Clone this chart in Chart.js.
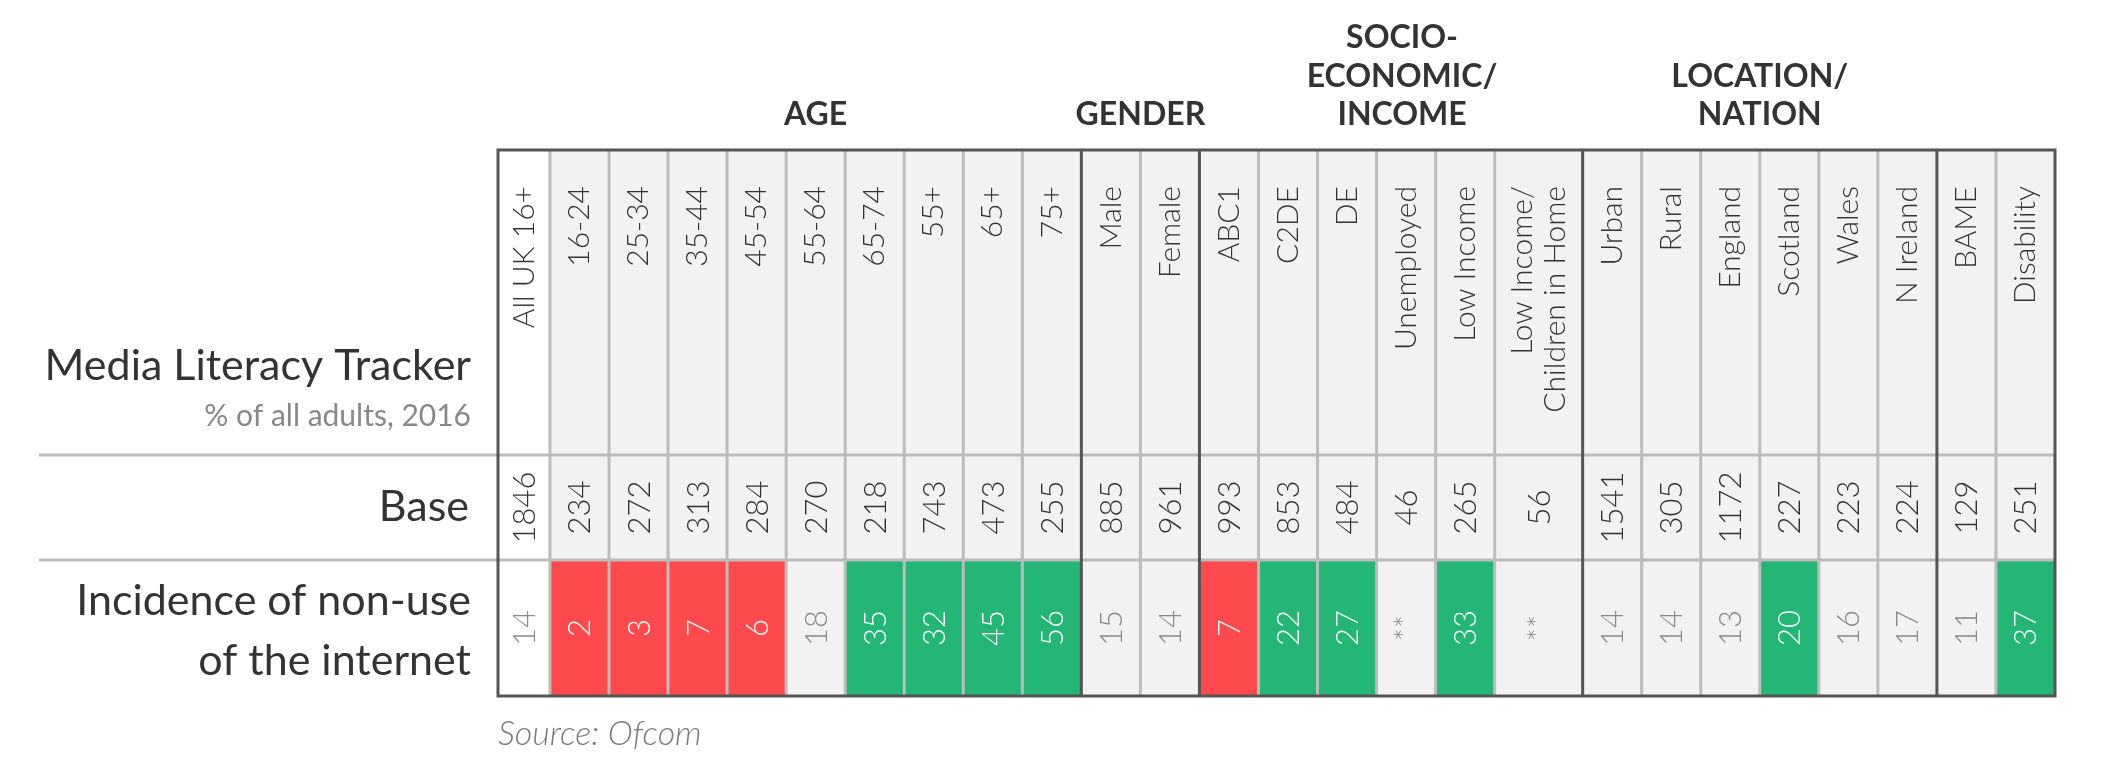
<!DOCTYPE html>
<html>
<head>
<meta charset="utf-8">
<script src="https://cdn.jsdelivr.net/npm/chart.js@4.4.0/dist/chart.umd.min.js"></script>
<style>
  html, body { margin: 0; background: #fff; }
  canvas { display: block; }
</style>
</head>
<body>
<canvas id="table-chart" width="2112" height="773"></canvas>
<script>
// Column labels (rotated headers)
const columns = ["All UK 16+", "16-24", "25-34", "35-44", "45-54", "55-64", "65-74", "55+", "65+", "75+",
  "Male", "Female", "ABC1", "C2DE", "DE", "Unemployed", "Low Income", "Low Income/\nChildren in Home",
  "Urban", "Rural", "England", "Scotland", "Wales", "N Ireland", "BAME", "Disability"];

// Base sizes
const baseValues = [1846, 234, 272, 313, 284, 270, 218, 743, 473, 255, 885, 961, 993, 853, 484, 46, 265, 56,
  1541, 305, 1172, 227, 223, 224, 129, 251];

// Incidence of non-use of the internet (%), null = ** (base too small)
const nonUse = [14, 2, 3, 7, 6, 18, 35, 32, 45, 56, 15, 14, 7, 22, 27, null, 33, null,
  14, 14, 13, 20, 16, 17, 11, 37];

// significance vs all adults: "low" / "high" / ""
const signif = ["", "low", "low", "low", "low", "", "high", "high", "high", "high", "", "", "low", "high", "high", "", "high", "",
  "", "", "", "high", "", "", "", "high"];

// group headings and the columns they cover
const groups = ["AGE", "GENDER", "SOCIO-\nECONOMIC/\nINCOME", "LOCATION/\nNATION"];
const groupFirst = [1, 10, 12, 18];
const groupLast = [9, 11, 17, 23];

const rowLabels = ["Base", "Incidence of non-use\nof the internet"];

// layout (not data)
const colWidths = columns.map((c, i) => i === 0 ? 0.88 : (i === 17 ? 1.49 : 1));
const edges = [0];
colWidths.forEach(w => edges.push(edges[edges.length - 1] + w));
const rowEdges = [0, 305, 410, 546];
const darkAfter = [9, 11, 17, 23]; // dark separator after these columns
const groupNudge = [0, 0, 11, 0];

const RED = "#ff4a4d", GREEN = "#23b674", CELL = "#f2f2f2";

function cellColor(i) {
  if (signif[i] === "low") return RED;
  if (signif[i] === "high") return GREEN;
  return i === 0 ? "#ffffff" : CELL;
}

const datasets = columns.map((c, i) => ({
  label: c,
  data: [0, 1, 2].map(r => ({ x: (edges[i] + edges[i + 1]) / 2, y: [rowEdges[r], rowEdges[r + 1]] })),
  backgroundColor: [i === 0 ? "#ffffff" : CELL, i === 0 ? "#ffffff" : CELL, cellColor(i)],
  borderWidth: 0,
  grouped: false,
  barThickness: ctx => {
    const s = ctx.chart.scales.x;
    return s.getPixelForValue(edges[i + 1]) - s.getPixelForValue(edges[i]);
  }
}));

function rotText(ctx, text, x, y, align) {
  ctx.save();
  ctx.translate(x, y);
  ctx.rotate(-Math.PI / 2);
  ctx.textAlign = align;
  ctx.textBaseline = "middle";
  ctx.fillText(text, 0, 0);
  ctx.restore();
}

const tablePlugin = {
  id: "tableLines",
  afterDatasetsDraw(chart) {
    const ctx = chart.ctx;
    const X = v => chart.scales.x.getPixelForValue(v);
    const Y = v => chart.scales.y.getPixelForValue(v);
    const top = Y(0), bottom = Y(546), left = X(0), right = X(edges[edges.length - 1]);

    ctx.save();
    // light cell lines
    ctx.strokeStyle = "#bcbcbc";
    ctx.lineWidth = 3;
    for (let i = 1; i < columns.length; i++) {
      if (darkAfter.includes(i - 1)) continue;
      ctx.beginPath();
      ctx.moveTo(X(edges[i]), top);
      ctx.lineTo(X(edges[i]), bottom);
      ctx.stroke();
    }
    [rowEdges[1], rowEdges[2]].forEach(r => {
      ctx.beginPath();
      ctx.moveTo(39, Y(r));
      ctx.lineTo(right, Y(r));
      ctx.stroke();
    });
    // dark group lines and outline
    ctx.strokeStyle = "#555555";
    ctx.lineWidth = 3;
    darkAfter.forEach(i => {
      ctx.beginPath();
      ctx.moveTo(X(edges[i + 1]), top);
      ctx.lineTo(X(edges[i + 1]), bottom);
      ctx.stroke();
    });
    ctx.strokeRect(left, top, right - left, bottom - top);

    // column headers
    ctx.fillStyle = "#333333";
    ctx.font = "300 30px Lato";
    columns.forEach((c, i) => {
      const cx = (X(edges[i]) + X(edges[i + 1])) / 2;
      const lines = c.split("\n");
      lines.forEach((ln, k) => {
        const off = (k - (lines.length - 1) / 2) * 33;
        rotText(ctx, ln, cx + off, top + 36, "right");
      });
    });

    // base row
    ctx.font = "300 31px Lato";
    const baseMid = (Y(rowEdges[1]) + Y(rowEdges[2])) / 2;
    baseValues.forEach((v, i) => {
      const cx = (X(edges[i]) + X(edges[i + 1])) / 2;
      ctx.fillStyle = "#333333";
      rotText(ctx, String(v), cx + 1, baseMid, "center");
    });

    // incidence row
    const incMid = (Y(rowEdges[2]) + Y(rowEdges[3])) / 2;
    nonUse.forEach((v, i) => {
      const cx = (X(edges[i]) + X(edges[i + 1])) / 2;
      ctx.fillStyle = signif[i] ? "#ffffff" : "#8a8a8a";
      rotText(ctx, v === null ? "**" : String(v), cx + 1, incMid, "center");
    });

    // group headings
    ctx.fillStyle = "#333333";
    ctx.font = "700 32px Lato";
    ctx.textAlign = "center";
    ctx.textBaseline = "alphabetic";
    groups.forEach((g, k) => {
      const cx = (X(edges[groupFirst[k]]) + X(edges[groupLast[k] + 1])) / 2 + groupNudge[k];
      const lines = g.split("\n");
      lines.forEach((ln, j) => {
        ctx.fillText(ln, cx, 125 - (lines.length - 1 - j) * 38.5);
      });
    });

    // left labels
    ctx.textAlign = "right";
    ctx.fillStyle = "#333333";
    ctx.font = "400 43px Lato";
    ctx.fillText("Media Literacy Tracker", 471, 380);
    ctx.fillStyle = "#888888";
    ctx.font = "400 30px Lato";
    ctx.fillText("% of all adults, 2016", 471, 426);
    ctx.fillStyle = "#333333";
    ctx.font = "400 43px Lato";
    ctx.fillText(rowLabels[0], 469, 521);
    const inc = rowLabels[1].split("\n");
    ctx.fillText(inc[0], 471, 615);
    ctx.fillText(inc[1], 471, 675);

    // source
    ctx.textAlign = "left";
    ctx.fillStyle = "#7a7a7a";
    ctx.font = "italic 300 34px Lato";
    ctx.fillText("Source: Ofcom", 498, 745);
    ctx.restore();
  }
};

new Chart(document.getElementById("table-chart"), {
  type: "bar",
  data: { datasets },
  options: {
    responsive: false,
    animation: false,
    devicePixelRatio: 1,
    layout: { padding: { left: 498, right: 57, top: 150, bottom: 77 } },
    plugins: {
      legend: { display: false },
      tooltip: { enabled: false }
    },
    scales: {
      x: { type: "linear", min: 0, max: edges[edges.length - 1], offset: false, display: false },
      y: { type: "linear", min: 0, max: 546, reverse: true, display: false }
    }
  },
  plugins: [tablePlugin]
});
</script>
</body>
</html>
